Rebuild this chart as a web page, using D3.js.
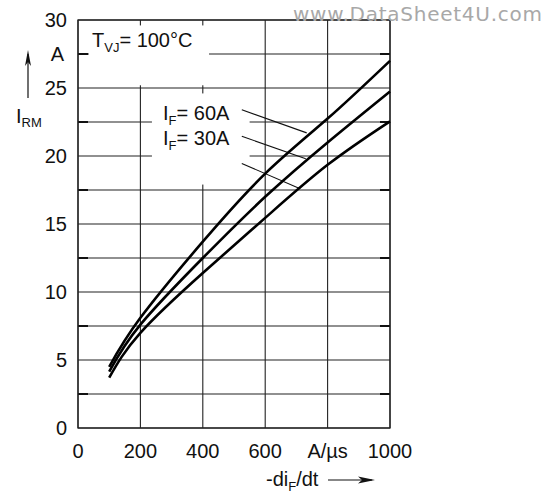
<!doctype html>
<html>
<head>
<meta charset="utf-8">
<script src="https://cdnjs.cloudflare.com/ajax/libs/d3/7.8.5/d3.min.js"></script>
<style>
  body { margin: 0; background: #fff; }
  svg text { font-family: "Liberation Sans", Arial, sans-serif; fill: #111; }
</style>
</head>
<body>
<svg id="chart" width="560" height="493"></svg>
<script>
// dI/dt values (A/us) and reverse recovery current (A)
var diDt = [100, 200, 400, 600, 800, 1000];
var irm60 = [4.5, 8.1, 13.7, 18.7, 22.75, 27.0];
var irm30 = [4.15, 7.6, 12.5, 17.0, 21.0, 24.75];
var irm15 = [3.7, 7.0, 11.4, 15.45, 19.35, 22.55];

var xTicks = [0, 200, 400, 600, 800, 1000];
var xTickLabels = ["0", "200", "400", "600", "A/\u00b5s", "1000"];
var yTicks = [0, 5, 10, 15, 20, 25, 27.5, 30];
var yTickLabels = ["0", "5", "10", "15", "20", "25", "A", "30"];

// leader lines: [x1, y1, x2, y2] in data units
var leaders = [
  [525, 23.4, 733, 21.7],
  [525, 21.45, 730, 19.8],
  [525, 19.45, 712, 17.6]
];

var svg = d3.select("#chart");
var pLeft = 78, pRight = 390, pTop = 20, pBottom = 428;

var x = d3.scaleLinear().domain([0, 1000]).range([pLeft, pRight]);
var y = d3.scaleLinear().domain([0, 30]).range([pBottom, pTop]);

// grid
var g = svg.append("g");
g.selectAll("line.h")
  .data(d3.range(0, 30.1, 2.5))
  .enter().append("line")
  .attr("x1", pLeft).attr("x2", pRight)
  .attr("y1", d => y(d)).attr("y2", d => y(d))
  .style("stroke", "#222").style("stroke-width", 1.1);
g.selectAll("line.v")
  .data(d3.range(0, 1001, 200))
  .enter().append("line")
  .attr("y1", pTop).attr("y2", pBottom)
  .attr("x1", d => x(d)).attr("x2", d => x(d))
  .style("stroke", "#222").style("stroke-width", 1.1);

// minor ticks at the half steps, inside
g.selectAll("line.tl")
  .data(d3.range(2.5, 30, 5))
  .enter().append("line")
  .attr("x1", pLeft).attr("x2", pLeft + 10)
  .attr("y1", d => y(d)).attr("y2", d => y(d))
  .style("stroke", "#111").style("stroke-width", 2);
g.selectAll("line.tr")
  .data(d3.range(2.5, 30, 5))
  .enter().append("line")
  .attr("x1", pRight - 10).attr("x2", pRight)
  .attr("y1", d => y(d)).attr("y2", d => y(d))
  .style("stroke", "#111").style("stroke-width", 2);

// white boxes behind labels
svg.append("rect").attr("x", x(35)).attr("y", y(29.6)).attr("width", x(420) - x(35)).attr("height", y(25.2) - y(29.6)).style("fill", "#fff");
svg.append("rect").attr("x", x(237)).attr("y", y(24.6)).attr("width", x(550) - x(237)).attr("height", y(17.9) - y(24.6)).style("fill", "#fff");

// frame
svg.append("rect").attr("x", pLeft).attr("y", pTop).attr("width", pRight - pLeft).attr("height", pBottom - pTop)
  .style("fill", "none").style("stroke", "#222").style("stroke-width", 1.3);

// leader lines
svg.selectAll("line.lead")
  .data(leaders)
  .enter().append("line")
  .attr("x1", d => x(d[0])).attr("y1", d => y(d[1]))
  .attr("x2", d => x(d[2])).attr("y2", d => y(d[3]))
  .style("stroke", "#111").style("stroke-width", 1.1);

// curves
var line = d3.line().x(d => x(d[0])).y(d => y(d[1])).curve(d3.curveNatural);
[irm60, irm30, irm15].forEach(s => {
  svg.append("path")
    .datum(diDt.map((v, i) => [v, s[i]]))
    .attr("d", line)
    .style("fill", "none").style("stroke", "#000").style("stroke-width", 2.6);
});

// tick labels
svg.selectAll("text.xt")
  .data(xTicks)
  .enter().append("text")
  .attr("x", d => x(d)).attr("y", 458)
  .attr("text-anchor", "middle")
  .style("font-size", "20px")
  .text((d, i) => xTickLabels[i]);
svg.selectAll("text.yt")
  .data(yTicks)
  .enter().append("text")
  .attr("x", (d, i) => yTickLabels[i] == "A" ? 64 : 67)
  .attr("y", d => y(d) + 7)
  .attr("text-anchor", "end")
  .style("font-size", "20px")
  .text((d, i) => yTickLabels[i]);

// axis titles
var ax = svg.append("text").attr("x", 266).attr("y", 486).style("font-size", "20px");
ax.append("tspan").text("-di");
ax.append("tspan").attr("dy", 5).style("font-size", "13px").text("F");
ax.append("tspan").attr("dy", -5).text("/dt");
svg.append("line").attr("x1", 328).attr("x2", 372).attr("y1", 480).attr("y2", 480)
  .style("stroke", "#111").style("stroke-width", 1.2);
svg.append("path").attr("d", "M375,480 L358,476.5 L362,480 L358,483.5 Z").style("fill", "#111");

var yl = svg.append("text").attr("x", 16).attr("y", 123).style("font-size", "20px");
yl.append("tspan").text("I");
yl.append("tspan").attr("dy", 4).style("font-size", "13px").text("RM");
svg.append("line").attr("x1", 28).attr("x2", 28).attr("y1", 98).attr("y2", 54)
  .style("stroke", "#111").style("stroke-width", 1.2);
svg.append("path").attr("d", "M28,50 L25,66 L28,62 L31,66 Z").style("fill", "#111");

// annotations
var t = svg.append("text").attr("x", 92).attr("y", 47).style("font-size", "20px");
t.append("tspan").text("T");
t.append("tspan").attr("dy", 5).style("font-size", "13px").text("VJ");
t.append("tspan").attr("dy", -5).text("= 100\u00b0C");

[["60A", 120], ["30A", 145]].forEach(a => {
  var l = svg.append("text").attr("x", 163).attr("y", a[1]).style("font-size", "20px");
  l.append("tspan").text("I");
  l.append("tspan").attr("dy", 5).style("font-size", "13px").text("F");
  l.append("tspan").attr("dy", -5).text("= " + a[0]);
});

svg.append("text").attr("x", 293).attr("y", 21).attr("textLength", 249)
  .style("font-size", "20px").style("font-family", "'DejaVu Sans', sans-serif")
  .style("fill", "#a8a8a8").text("www.DataSheet4U.com");
</script>
</body>
</html>
